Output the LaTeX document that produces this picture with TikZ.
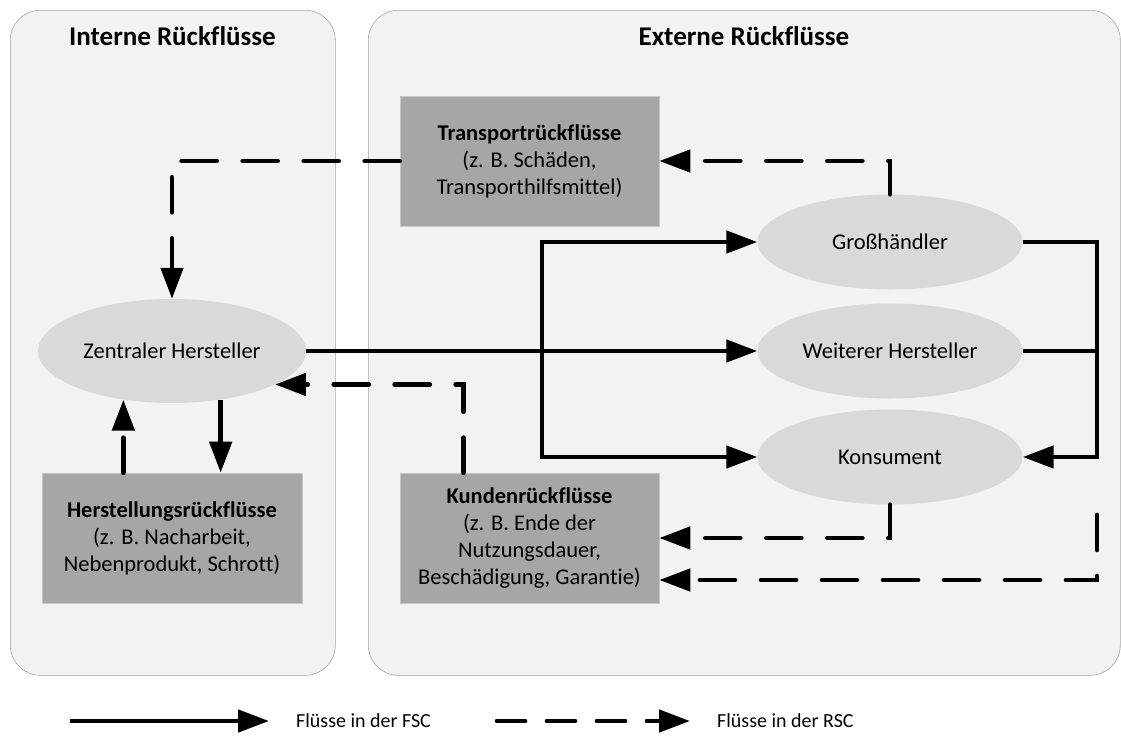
\documentclass[tikz,border=0pt]{standalone}
\usepackage{fontspec}
\setmainfont{Carlito}[Ligatures=NoCommon]
\usetikzlibrary{arrows.meta,shapes.geometric,calc}
\begin{document}
\begin{tikzpicture}[x=1pt,y=-1pt,
  panel/.style={draw=black!35, line width=0.6pt, fill=black!5, rounded corners=30pt, anchor=north west, inner sep=0pt},
  ptitle/.style={font=\fontsize{27}{32}\selectfont\bfseries},
  gbox/.style={fill=black!35, draw=black!22, line width=0.6pt, minimum width=259pt, minimum height=130pt, align=center, inner sep=0pt, font=\fontsize{22.5}{27}\selectfont},
  actor/.style={ellipse, fill=black!15, inner sep=0pt, minimum width=265pt, minimum height=95pt, font=\fontsize{22.5}{27}\selectfont},
  fsc/.style={line width=4.7pt, -{Triangle[length=31pt,width=22pt]}},
  rsc/.style={fsc, dash pattern=on 35pt off 26pt, line cap=round},
  legtext/.style={anchor=west, inner sep=0pt, font=\fontsize{20}{24}\selectfont},
]
\useasboundingbox (0,0) rectangle (1121,736);
% panels
\node[panel, minimum width=325pt, minimum height=665pt] (pI) at (10,10) {};
\node[panel, minimum width=752pt, minimum height=665pt] (pE) at (368,10) {};
\node[ptitle] (tI) at (172.5,36) {Interne Rückflüsse};
\node[ptitle] (tE) at (744,36) {Externe Rückflüsse};
% boxes
\node[gbox] (T) at (529.5,161) {\textbf{Transportrückflüsse}\\(z. B. Schäden,\\Transporthilfsmittel)};
\node[gbox, minimum width=260pt] (H) at (172,538) {\textbf{Herstellungsrückflüsse}\\(z. B. Nacharbeit,\\Nebenprodukt, Schrott)};
\node[gbox] (K) at (529.5,538) {\textbf{Kundenrückflüsse}\\(z. B. Ende der\\Nutzungsdauer,\\Beschädigung, Garantie)};
% actors
\node[actor, minimum width=268pt, minimum height=104pt] (ZH) at (172,351) {Zentraler Hersteller};
\node[actor] (G) at (890,242) {Großhändler};
\node[actor] (W) at (890,351) {Weiterer Hersteller};
\node[actor] (Kn) at (890,457) {Konsument};
% forward flows
\coordinate (b) at (542,351);
\coordinate (r) at (1097,351);
\draw[fsc] (ZH.east) -- (W.west);
\draw[fsc] (b) |- (G.west);
\draw[fsc] (b) |- (Kn.west);
\draw[fsc] (G.east) -| (r) |- (Kn.east);
\draw[line width=4.7pt] (W.east) -- (r);
\draw[fsc] (ZH.-45) -- (ZH.-45 |- H.north);
% reverse flows
\draw[rsc] (ZH.-135 |- H.north) -- (ZH.-135);
\draw[rsc] (T.west) -| (ZH.north);
\draw[rsc] (G.north) |- (T.east);
\draw[rsc] ([xshift=-66pt]K.north) |- (ZH.-18);
\draw[rsc] (Kn.south) |- (K.east);
\coordinate (c) at (1097,515);
\draw[rsc] (c) |- ([yshift=-42pt]K.east);
% legend
\coordinate (l1) at (70,721);
\coordinate (l2) at (269,721);
\draw[fsc] (l1) -- (l2);
\node[legtext] (lt1) at (296,721) {Flüsse in der FSC};
\coordinate (l3) at (497,721);
\coordinate (l4) at (690,721);
\draw[rsc, dash pattern=on 28pt off 22pt] (l3) -- (l4);
\node[legtext] (lt2) at (717,721) {Flüsse in der RSC};
\end{tikzpicture}
\end{document}
